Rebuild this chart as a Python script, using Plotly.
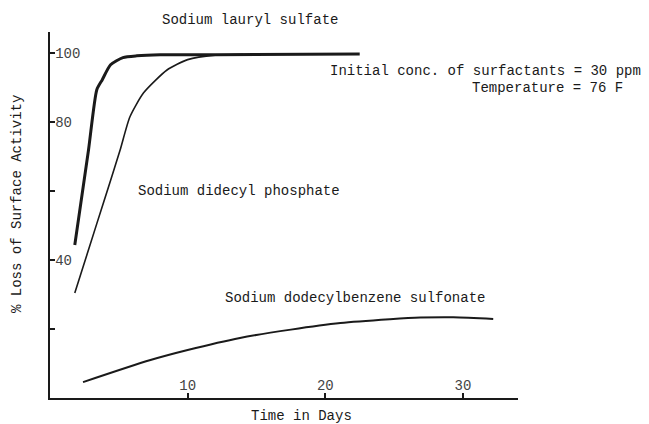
import plotly.graph_objects as go

# curves (days, % loss of surface activity)
lauryl_days = [1.8, 2.8, 3.4, 3.8, 4.4, 5.3, 6.3, 8.0, 12.0, 22.5]
lauryl_loss = [44.3, 71.9, 89.3, 92.2, 96.5, 98.6, 99.1, 99.4, 99.4, 99.6]

didecyl_days = [1.8, 3.4, 4.4, 5.1, 5.8, 6.8, 8.5, 10.0, 12.0, 14.0]
didecyl_loss = [30.4, 50.5, 63.0, 71.9, 81.4, 88.4, 95.0, 98.0, 99.3, 99.5]

dodecyl_days = [2.4, 7.3, 10.0, 13.8, 17.5, 21.1, 24.7, 26.9, 29.3, 32.2]
dodecyl_loss = [4.6, 11.0, 13.9, 17.4, 19.8, 21.7, 22.8, 23.3, 23.4, 22.9]

x_ticks = [10, 20, 30]
y_ticks = [20, 40, 60, 80, 100]
y_ticktext = ["", "40", "", "80", "100"]

FONT = "Liberation Mono"
INK = "#1a1a1a"

fig = go.Figure()
fig.add_trace(go.Scatter(x=lauryl_days, y=lauryl_loss, mode="lines",
                         line=dict(color=INK, width=3, shape="spline", smoothing=0.6)))
fig.add_trace(go.Scatter(x=didecyl_days, y=didecyl_loss, mode="lines",
                         line=dict(color=INK, width=1.6, shape="spline", smoothing=0.6)))
fig.add_trace(go.Scatter(x=dodecyl_days, y=dodecyl_loss, mode="lines",
                         line=dict(color=INK, width=2, shape="spline", smoothing=0.8)))

# curve labels and notes (paper coords so nothing outside the axes gets hidden)
notes = [
    dict(text="Sodium lauryl sulfate", x=0.427, y=1.033, xanchor="center"),
    dict(text="Sodium didecyl phosphate", x=0.403, y=0.566, xanchor="center"),
    dict(text="Sodium dodecylbenzene sulfonate", x=0.652, y=0.273, xanchor="center"),
    dict(text="Initial conc. of surfactants = 30 ppm", x=1.267, y=0.893, xanchor="right"),
    dict(text="Temperature = 76 F", x=1.229, y=0.846, xanchor="right"),
]
for n in notes:
    fig.add_annotation(text=n["text"], x=n["x"], y=n["y"], xref="paper", yref="paper",
                       xanchor=n["xanchor"], yanchor="middle", showarrow=False,
                       font=dict(family=FONT, size=14, color=INK))

fig.add_annotation(text="% Loss of Surface Activity", x=-0.0705, y=0.53,
                   xref="paper", yref="paper", textangle=-90, showarrow=False,
                   xanchor="center", yanchor="middle",
                   font=dict(family=FONT, size=14, color=INK))
fig.add_annotation(text="Time in Days", x=0.538, y=-0.048, xref="paper", yref="paper",
                   showarrow=False, xanchor="center", yanchor="middle",
                   font=dict(family=FONT, size=14, color=INK))

# page body has an 8px margin, so the figure is a bit smaller and margins shifted
fig.update_layout(
    width=641, height=416,
    margin=dict(l=42, r=131, t=24, b=26, pad=0),
    paper_bgcolor="white", plot_bgcolor="white",
    showlegend=False,
    font=dict(family=FONT, size=14, color=INK),
    xaxis=dict(range=[0, 34], showgrid=False, zeroline=False,
               showline=True, linecolor=INK, linewidth=2,
               tickvals=x_ticks, ticks="inside", ticklen=5, tickwidth=1.5,
               tickcolor=INK, ticklabelposition="inside"),
    yaxis=dict(range=[0, 106], showgrid=False, zeroline=False,
               showline=True, linecolor=INK, linewidth=2,
               tickvals=y_ticks, ticktext=y_ticktext,
               ticks="inside", ticklen=5, tickwidth=1.5,
               tickcolor=INK, ticklabelposition="inside"),
)

fig.write_html("out.html")
